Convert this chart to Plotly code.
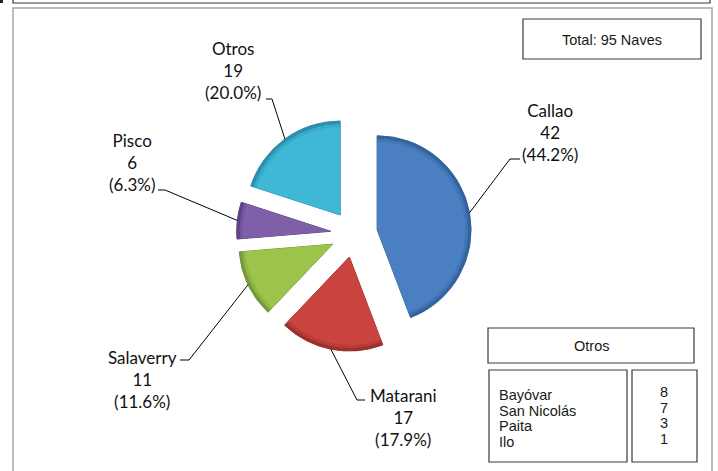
import math
import plotly.graph_objects as go

W, H = 718, 471

# ---- data ----
ports = ["Callao", "Matarani", "Salaverry", "Pisco", "Otros"]
ships = [42, 17, 11, 6, 19]
other_ports = ["Bayóvar", "San Nicolás", "Paita", "Ilo"]
other_ships = [8, 7, 3, 1]
total_label = "Total: 95 Naves"

# ---- style ----
colors = ["#4a80c2", "#c9433f", "#9cc34c", "#7f5fa8", "#3fb7d6"]
mid_colors = ["#4175b4", "#b93c38", "#8fb543", "#72559a", "#37aac8"]
edge_colors = ["#33639d", "#9c2e2b", "#76973a", "#5c4382", "#2c8eab"]
PIE_CX, PIE_CY = 354, 234      # pixel centre of pie
PIE_R = 94                      # pixel radius
PULL = 0.25                     # explode fraction
# label placement (pixel centre of the middle text line) and leader elbows
label_pos = [(550, 133), (403, 417), (142, 379), (132, 163), (233, 71)]
elbows = [((510, 159), (520, 159)), ((357, 400), (365, 400)),
          ((189, 360), (180, 360)), ((165, 190), (158, 190)),
          ((272, 99), (266, 99))]


def px(x):
    return x / W


def py(y):
    return 1 - y / H


fig = go.Figure()
# layered pies give a bevelled rim: same apex, shrinking radius
layers = [(0, edge_colors, dict(color=edge_colors, width=1)),
          (3, mid_colors, dict(width=0)),
          (6, colors, dict(width=0))]
pull_px = PULL * PIE_R
for inset, cols, line in layers:
    r = PIE_R - inset
    p = pull_px / r
    half = r * (1 + p)
    fig.add_trace(go.Pie(
        labels=ports, values=ships, sort=False, direction="clockwise", rotation=0,
        pull=[p] * len(ships), textinfo="none",
        hoverinfo="label+value+percent" if inset == 0 else "skip",
        marker=dict(colors=cols, line=line),
        domain=dict(x=[px(PIE_CX - half), px(PIE_CX + half)],
                    y=[py(PIE_CY + half), py(PIE_CY - half)]),
        showlegend=False,
    ))

shapes = []
annotations = []
total = sum(ships)
cum = 0
label_font = dict(family="Lato, Noto Sans, sans-serif", size=17, color="#111111")
for i, (name, v) in enumerate(zip(ports, ships)):
    mid = (cum + v / 2) / total * 2 * math.pi
    cum += v
    dx, dy = math.sin(mid), -math.cos(mid)
    ax = PIE_CX + pull_px * dx
    ay = PIE_CY + pull_px * dy
    sx, sy = ax + PIE_R * dx, ay + PIE_R * dy
    (ex, ey), (fx, fy) = elbows[i]
    path = f"M {px(sx)},{py(sy)} L {px(ex)},{py(ey)} L {px(fx)},{py(fy)}"
    shapes.append(dict(type="path", xref="paper", yref="paper", path=path,
                       line=dict(color="black", width=1)))
    pct = v / total * 100
    lx, ly = label_pos[i]
    annotations.append(dict(
        x=px(lx), y=py(ly), xref="paper", yref="paper",
        text=f"{name}<br>{v}<br>({pct:.1f}%)", showarrow=False,
        font=label_font, align="center", xanchor="center", yanchor="middle"))

box_line = dict(color="#3a3a3a", width=1.2)
# outer frames
shapes.append(dict(type="rect", xref="paper", yref="paper",
                   x0=px(13), x1=px(712), y0=py(490), y1=py(8),
                   line=dict(color="#a6a6a6", width=1.5)))
shapes.append(dict(type="rect", xref="paper", yref="paper",
                   x0=px(13), x1=px(710), y0=py(3), y1=py(-20),
                   line=dict(color="#3a3a3a", width=1.2)))
shapes.append(dict(type="rect", xref="paper", yref="paper",
                   x0=px(0), x1=px(3), y0=py(3), y1=py(0),
                   fillcolor="#222", line=dict(width=0)))
# text boxes
boxes = [(523, 19, 701, 59), (488, 328, 694, 363), (489, 370, 627, 462), (632, 370, 697, 462)]
for x0, y0, x1, y1 in boxes:
    shapes.append(dict(type="rect", xref="paper", yref="paper",
                       x0=px(x0), x1=px(x1), y0=py(y1), y1=py(y0),
                       line=box_line, fillcolor="white", layer="below"))

box_font = dict(family="Liberation Sans, Arial, sans-serif", size=14.5, color="#1a1a1a")
annotations.append(dict(x=px(612), y=py(40), xref="paper", yref="paper", text=total_label,
                        showarrow=False, font=box_font, xanchor="center", yanchor="middle"))
annotations.append(dict(x=px(591), y=py(345.5), xref="paper", yref="paper", text="Otros",
                        showarrow=False, font=box_font, xanchor="center", yanchor="middle"))
for j, (n, v) in enumerate(zip(other_ports, other_ships)):
    annotations.append(dict(x=px(497), y=py(395 + 15.6 * j), xref="paper", yref="paper",
                            text=n, showarrow=False, font=box_font,
                            xanchor="left", yanchor="middle"))
    annotations.append(dict(x=px(664), y=py(392 + 15.6 * j), xref="paper", yref="paper",
                            text=str(v), showarrow=False, font=box_font,
                            xanchor="center", yanchor="middle"))

fig.update_layout(
    width=W, height=H, margin=dict(l=0, r=0, t=0, b=0),
    paper_bgcolor="white", plot_bgcolor="white",
    shapes=shapes, annotations=annotations,
)
fig.write_html("out.html", config={"displayModeBar": False},
               post_script="document.body.style.margin='0px';")
